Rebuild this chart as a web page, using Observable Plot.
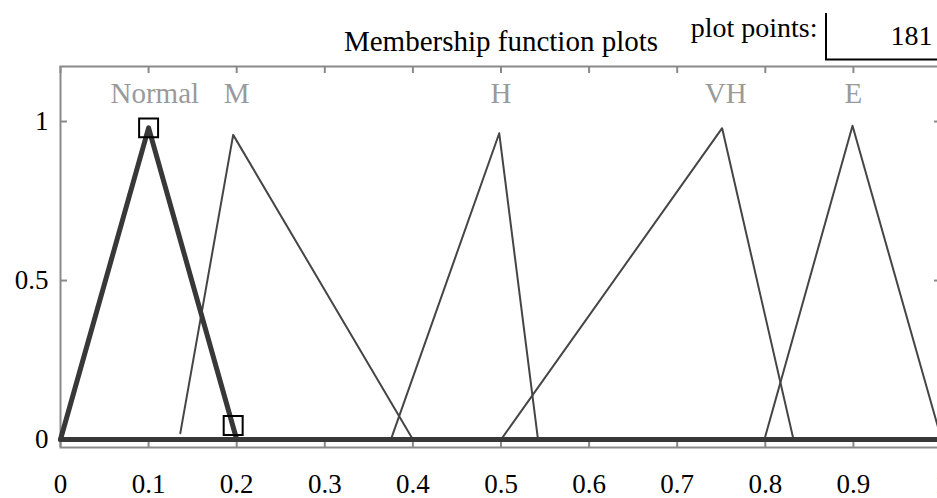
<!DOCTYPE html>
<html><head><meta charset="utf-8">
<script src="https://cdn.jsdelivr.net/npm/d3@7"></script>
<script src="https://cdn.jsdelivr.net/npm/@observablehq/plot@0.6"></script>
<style>
html,body{margin:0;padding:0;background:#fff;overflow:hidden;}
#chart{position:relative;width:937px;height:498px;overflow:hidden;}
</style></head><body><div id="chart"></div>
<script>
// ---- data ----
const mfNames   = ["Normal", "M", "H", "VH", "E"];
const mfLabelX  = [0.107, 0.2, 0.5, 0.755, 0.9];
const mfX = [
  [0, 0.1, 0.2, 1],
  [0.136, 0.196, 0.4],
  [0.375, 0.498, 0.542],
  [0.5, 0.751, 0.832],
  [0.799, 0.899, 1.0]
];
const mfY = [
  [0, 0.98, 0, 0],
  [0.02, 0.958, 0],
  [0, 0.963, 0],
  [0, 0.979, 0],
  [0, 0.987, 0]
];
const selectedMF = "Normal";
const baselineX = [0, 1];
const baselineY = [0, 0];
const handleX = [0.1, 0.196];
const handleY = [0.98, 0.044];
const xTicks = [0, 0.1, 0.2, 0.3, 0.4, 0.5, 0.6, 0.7, 0.8, 0.9, 1];
const xTickLabels = ["0", "0.1", "0.2", "0.3", "0.4", "0.5", "0.6", "0.7", "0.8", "0.9", "1"];
const yTicks = [0, 0.5, 1];
const yTickLabels = ["0", "0.5", "1"];
const yDomain = [-0.025, 1.173];
const xDomain = [0, 1];
const titleText = "Membership function plots";
const pointsLabel = "plot points:";
const pointsValue = "181";

// ---- build tables ----
const rows = [];
mfNames.forEach((n, i) => mfX[i].forEach((x, j) => rows.push({name: n, x, y: mfY[i][j]})));
const thinRows = rows.filter(d => d.name !== selectedMF);
const thickRows = rows.filter(d => d.name === selectedMF);
const baseRows = baselineX.map((x, i) => ({x, y: baselineY[i]}));
const handles = handleX.map((x, i) => ({x, y: handleY[i]}));
const labels = mfNames.map((n, i) => ({name: n, x: mfLabelX[i]}));

const W = 937, H = 498;
const mL = 60, mT = 66, mB = 51, mR = -4;
const plotW = W - mL - mR, plotH = H - mT - mB;
const tick = 7;
const frameGray = "#8a8a8a";
const serif = "'Liberation Serif', 'Times New Roman', serif";

const chart = Plot.plot({
  width: W, height: H,
  marginLeft: mL, marginTop: mT, marginBottom: mB, marginRight: mR,
  x: {domain: xDomain, axis: null},
  y: {domain: yDomain, axis: null},
  style: {fontFamily: serif, background: "white", overflow: "hidden"},
  marks: [
    Plot.frame({stroke: frameGray, strokeWidth: 2}),
    // inward ticks
    Plot.ruleX(xTicks, {x: d => d, insetTop: plotH - tick, stroke: frameGray, strokeWidth: 2}),
    Plot.ruleX(xTicks, {x: d => d, insetBottom: plotH - tick, stroke: frameGray, strokeWidth: 2}),
    Plot.ruleY(yTicks, {y: d => d, insetRight: plotW - tick, stroke: frameGray, strokeWidth: 2}),
    Plot.ruleY(yTicks, {y: d => d, insetLeft: plotW - tick, stroke: frameGray, strokeWidth: 2}),
    // tick labels
    Plot.text(xTicks, {x: d => d, y: () => yDomain[0], text: (d, i) => xTickLabels[i], dy: 37, fontSize: 27, fill: "black"}),
    Plot.text(yTicks, {x: () => xDomain[0], y: d => d, text: (d, i) => yTickLabels[i], dx: -12, textAnchor: "end", fontSize: 27, fill: "black"}),
    // MF lines
    Plot.line(thinRows, {x: "x", y: "y", z: "name", stroke: "#454545", strokeWidth: 2}),
    Plot.line(baseRows, {x: "x", y: "y", stroke: "#383838", strokeWidth: 5}),
    Plot.line(thickRows, {x: "x", y: "y", stroke: "#383838", strokeWidth: 5, strokeLinejoin: "round"}),
    Plot.dot(handles, {x: "x", y: "y", symbol: "square", r: 10.7, fill: "none", stroke: "black", strokeWidth: 2}),
    // MF labels
    Plot.text(labels, {x: "x", frameAnchor: "top", lineAnchor: "middle", dy: 27, text: "name", fontSize: 29, fill: "#9a9a9a"}),
    // title and plot points
    Plot.text([titleText], {frameAnchor: "top", lineAnchor: "middle", dy: -25, text: d => d, fontSize: 29, fill: "black"}),
    Plot.text([pointsLabel], {frameAnchor: "top-right", lineAnchor: "middle", dx: -124, dy: -38, textAnchor: "end", text: d => d, fontSize: 28, fill: "black"}),
    Plot.text([pointsValue], {frameAnchor: "top-right", lineAnchor: "middle", dx: -9, dy: -30, textAnchor: "end", text: d => d, fontSize: 28, fill: "black"})
  ]
});

// edit box for plot points (UI widget outline)
const svg = d3.select(chart);
svg.append("path")
  .attr("d", "M826,13V59.5H940")
  .attr("fill", "none").attr("stroke", "black").attr("stroke-width", 2);

document.getElementById("chart").appendChild(chart);
</script>
</body></html>
